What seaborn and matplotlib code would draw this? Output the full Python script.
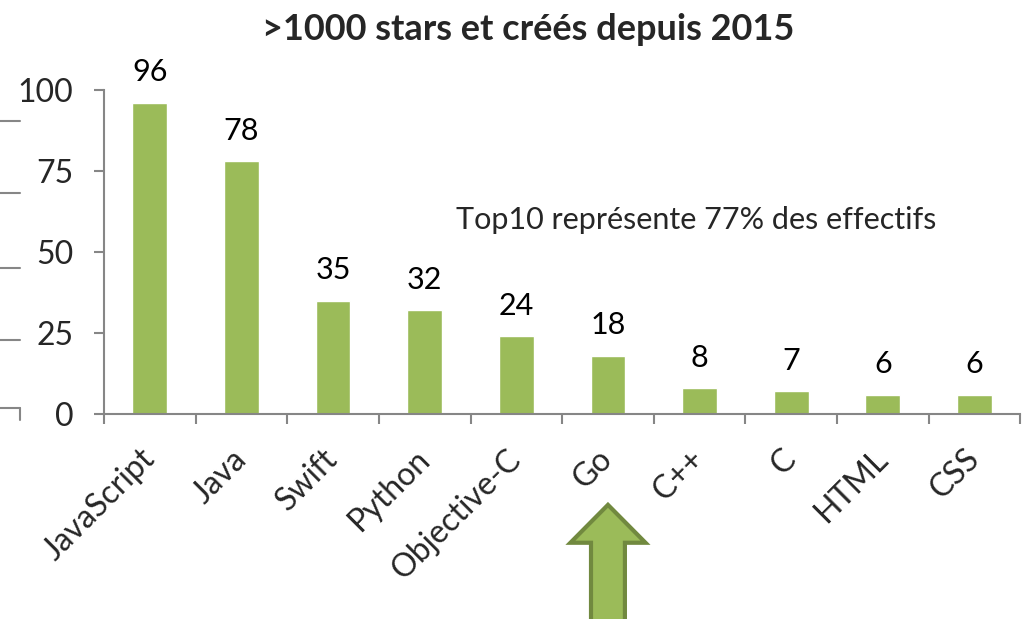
import matplotlib
matplotlib.use("Agg")
import matplotlib.pyplot as plt
from matplotlib.lines import Line2D
from matplotlib.patches import FancyArrow
import pandas as pd
import seaborn as sns

# data
languages = ["JavaScript", "Java", "Swift", "Python", "Objective-C",
             "Go", "C++", "C", "HTML", "CSS"]
repo_counts = [96, 78, 35, 32, 24, 18, 8, 7, 6, 6]
y_ticks = [0, 25, 50, 75, 100]

TITLE = ">1000 stars et créés depuis 2015"
NOTE = "Top10 représente 77% des effectifs"

BAR_GREEN = "#9BBB59"
ARROW_EDGE = "#71893F"
AXIS_GRAY = "#868686"

sns.set_style("white")
plt.rcParams["font.family"] = ["Lato", "DejaVu Sans"]

df = pd.DataFrame({"language": languages, "count": repo_counts})

fig = plt.figure(figsize=(10.26, 6.19), dpi=100)
ax = fig.add_axes([0.1014, 0.331, 0.893, 0.5235])

sns.barplot(data=df, x="language", y="count", color=BAR_GREEN,
            saturation=1, width=0.38, ax=ax)
ax.bar_label(ax.containers[0], labels=[str(v) for v in repo_counts],
             padding=12, fontsize=22, color="black")

ax.set_xlim(-0.5, len(languages) - 0.5)
ax.set_ylim(0, 100)
ax.set_yticks(y_ticks)
ax.set_xlabel("")
ax.set_ylabel("")
ax.set_title(TITLE, fontsize=26, fontweight="bold", x=0.463, pad=36)

for side in ("top", "right"):
    ax.spines[side].set_visible(False)
for side in ("left", "bottom"):
    ax.spines[side].set_color(AXIS_GRAY)
    ax.spines[side].set_linewidth(1.5)

# excel-style ticks: marks between categories, labels at the centres
ax.set_xticks([i + 0.5 for i in range(-1, len(languages))], minor=True)
ax.tick_params(axis="x", which="major", bottom=True, length=0, pad=29)
ax.tick_params(axis="x", which="minor", bottom=True, length=7, width=1.5,
               color=AXIS_GRAY, direction="out")
ax.tick_params(axis="y", left=True, length=7, width=1.5, color=AXIS_GRAY,
               direction="out", labelsize=23, pad=15)
plt.setp(ax.get_xticklabels(), rotation=45, ha="right", va="center",
         rotation_mode="anchor", fontsize=23)

ax.text(0.384, 0.6, NOTE, transform=ax.transAxes, fontsize=22, va="center")

# arrow under "Go"
go_idx = languages.index("Go")
ax.add_patch(FancyArrow(go_idx, -66, 0, 38, width=0.37, head_width=0.82,
                        head_length=11.7, length_includes_head=True,
                        facecolor=BAR_GREEN, edgecolor=ARROW_EDGE,
                        linewidth=3, clip_on=False))

# remnants of a neighbouring chart cut by the left edge
for yp in (121, 193, 268, 340, 408):
    yf = 1 - yp / 619
    fig.add_artist(Line2D([0, 20 / 1026], [yf, yf], color=AXIS_GRAY, lw=1.5))
fig.add_artist(Line2D([20 / 1026, 20 / 1026], [1 - 408 / 619, 1 - 420 / 619],
                      color=AXIS_GRAY, lw=1.5))

fig.savefig("out.png", dpi=100)
